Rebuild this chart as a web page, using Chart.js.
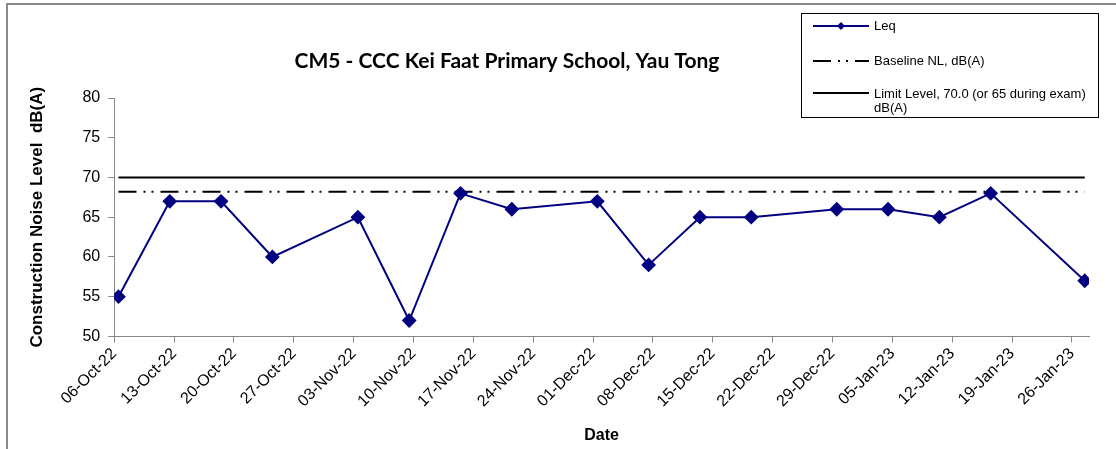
<!DOCTYPE html>
<html>
<head>
<meta charset="utf-8">
<script src="https://cdn.jsdelivr.net/npm/chart.js@4.4.1/dist/chart.umd.min.js"></script>
<style>
  html, body { margin: 0; padding: 0; background: #fff; }
  #wrap { width: 1116px; height: 449px; }
</style>
</head>
<body>
<div id="wrap"><canvas id="noiseChart" width="1116" height="449"></canvas></div>
<script>
    // ---- data ----
    const measureDates = ['06-Oct-22', '12-Oct-22', '18-Oct-22', '24-Oct-22', '03-Nov-22', '09-Nov-22',
        '15-Nov-22', '21-Nov-22', '01-Dec-22', '07-Dec-22', '13-Dec-22', '19-Dec-22',
        '29-Dec-22', '04-Jan-23', '10-Jan-23', '16-Jan-23', '27-Jan-23'];
    const leqValues = [55, 67, 67, 60, 65, 52, 68, 66, 67, 59, 65, 65, 66, 66, 65, 68, 57];
    const baselineLevel = 68.2;
    const limitLevel = 70;
    const tickLabels = ['06-Oct-22', '13-Oct-22', '20-Oct-22', '27-Oct-22', '03-Nov-22', '10-Nov-22',
        '17-Nov-22', '24-Nov-22', '01-Dec-22', '08-Dec-22', '15-Dec-22', '22-Dec-22',
        '29-Dec-22', '05-Jan-23', '12-Jan-23', '19-Jan-23', '26-Jan-23'];
    const axisEndDate = '28-Jan-23';
    const yTicks = [50, 55, 60, 65, 70, 75, 80];

    const chartTitle = 'CM5 - CCC Kei Faat Primary School, Yau Tong';
    const legendLabels = ['Leq', 'Baseline NL, dB(A)', ['Limit Level, 70.0 (or 65 during exam)', 'dB(A)']];

    // ---- date helpers (day number counted from the first tick) ----
    const MONTHS = ['Jan', 'Feb', 'Mar', 'Apr', 'May', 'Jun', 'Jul', 'Aug', 'Sep', 'Oct', 'Nov', 'Dec'];
    function parseDay(s) {
        const p = s.split('-');
        return Date.UTC(2000 + parseInt(p[2], 10), MONTHS.indexOf(p[1]), parseInt(p[0], 10)) / 86400000;
    }
    const day0 = parseDay(tickLabels[0]);
    function dayOf(s) { return parseDay(s) - day0; }
    function fmtDay(v) {
        const d = new Date((day0 + v) * 86400000);
        const dd = String(d.getUTCDate()).padStart(2, '0');
        return dd + '-' + MONTHS[d.getUTCMonth()] + '-' + String(d.getUTCFullYear()).slice(2);
    }

    // excel date axis puts each point in the middle of its day
    const leqPoints = measureDates.map((d, i) => ({ x: dayOf(d) + 0.5, y: leqValues[i] }));
    const baselinePoints = measureDates.map(d => ({ x: dayOf(d) + 0.5, y: baselineLevel }));
    const limitPoints = measureDates.map(d => ({ x: dayOf(d) + 0.5, y: limitLevel }));
    const tickDays = tickLabels.map(dayOf);

    const FONT = '"Liberation Sans", Arial, sans-serif';
    Chart.defaults.font.family = FONT;
    Chart.defaults.color = '#000';

    const axisGray = '#868686';
    const dashDotDot = [18, 7, 2, 6, 2, 7];

    // frame, title and boxed legend like the excel sheet
    const decorPlugin = {
        id: 'decor',
        beforeDraw(chart) {
            const ctx = chart.ctx;
            ctx.save();
            ctx.strokeStyle = '#8a8a8a';
            ctx.lineWidth = 2;
            ctx.beginPath();
            ctx.moveTo(7, 449);
            ctx.lineTo(7, 4);
            ctx.lineTo(1116, 4);
            ctx.stroke();
            ctx.restore();
        },
        afterDraw(chart) {
            const ctx = chart.ctx;
            const ds = chart.data.datasets;
            ctx.save();
            // title
            ctx.font = 'bold 21px Lato, "Open Sans", sans-serif';
            ctx.fillStyle = '#000';
            ctx.textAlign = 'center';
            ctx.textBaseline = 'alphabetic';
            ctx.fillText(chartTitle, 507, 68);

            // legend box
            ctx.strokeStyle = '#000';
            ctx.lineWidth = 1;
            ctx.strokeRect(801.5, 13.5, 297, 104);
            const rows = [26, 61, 93];
            ctx.font = '13px ' + FONT;
            ctx.textAlign = 'left';
            ctx.textBaseline = 'middle';
            rows.forEach((y, i) => {
                const d = ds[i];
                ctx.strokeStyle = d.borderColor;
                ctx.lineWidth = 2;
                ctx.setLineDash(d.borderDash || []);
                ctx.beginPath();
                ctx.moveTo(813, y);
                ctx.lineTo(869, y);
                ctx.stroke();
                ctx.setLineDash([]);
                if (i === 0) {
                    ctx.fillStyle = d.backgroundColor;
                    ctx.beginPath();
                    ctx.moveTo(841, y - 4);
                    ctx.lineTo(845, y);
                    ctx.lineTo(841, y + 4);
                    ctx.lineTo(837, y);
                    ctx.closePath();
                    ctx.fill();
                }
                ctx.fillStyle = '#000';
                const lab = legendLabels[i];
                if (Array.isArray(lab)) {
                    lab.forEach((t, k) => ctx.fillText(t, 874, y + 1 + k * 14));
                } else {
                    ctx.fillText(lab, 874, y);
                }
            });
            ctx.restore();
        }
    };

    const noiseChartElement = document.getElementById('noiseChart');
    if (noiseChartElement) {
        const ctx = noiseChartElement.getContext('2d');
        new Chart(ctx, {
            type: 'line',
            data: {
                datasets: [{
                    label: 'Leq',
                    data: leqPoints,
                    borderColor: '#000080',
                    backgroundColor: '#000080',
                    borderWidth: 2,
                    pointStyle: 'rectRot',
                    pointRadius: 6,
                    pointHoverRadius: 6,
                    tension: 0
                }, {
                    label: 'Baseline NL, dB(A)',
                    data: baselinePoints,
                    borderColor: '#000',
                    borderWidth: 2,
                    borderDash: dashDotDot,
                    pointRadius: 0
                }, {
                    label: 'Limit Level, 70.0 (or 65 during exam) dB(A)',
                    data: limitPoints,
                    borderColor: '#000',
                    borderWidth: 2,
                    pointRadius: 0
                }]
            },
            options: {
                responsive: false,
                animation: false,
                devicePixelRatio: 1,
                layout: { padding: { left: 23, top: 98, right: 27, bottom: 0 } },
                plugins: { legend: { display: false }, tooltip: { enabled: false } },
                scales: {
                    x: {
                        type: 'linear',
                        min: 0,
                        max: dayOf(axisEndDate),
                        afterBuildTicks: axis => { axis.ticks = tickDays.map(v => ({ value: v })); },
                        grid: { drawOnChartArea: false, drawTicks: true, tickLength: 6, color: axisGray },
                        border: { color: axisGray, width: 1 },
                        ticks: {
                            autoSkip: false,
                            maxRotation: 45,
                            minRotation: 45,
                            padding: 2,
                            font: { size: 16 },
                            callback: v => fmtDay(v)
                        },
                        title: {
                            display: true,
                            text: 'Date',
                            font: { size: 16, weight: 'bold' },
                            padding: { top: 13, bottom: 4 }
                        }
                    },
                    y: {
                        min: yTicks[0],
                        max: yTicks[yTicks.length - 1],
                        afterBuildTicks: axis => { axis.ticks = yTicks.map(v => ({ value: v })); },
                        grid: { drawOnChartArea: false, drawTicks: true, tickLength: 6, color: axisGray },
                        border: { color: axisGray, width: 1 },
                        ticks: { padding: 8, font: { size: 16 } },
                        title: {
                            display: true,
                            text: 'Construction Noise Level  dB(A)',
                            font: { size: 17, weight: 'bold' },
                            padding: { top: 4, bottom: 27 }
                        }
                    }
                }
            },
            plugins: [decorPlugin]
        });
    }
</script>
</body>
</html>
